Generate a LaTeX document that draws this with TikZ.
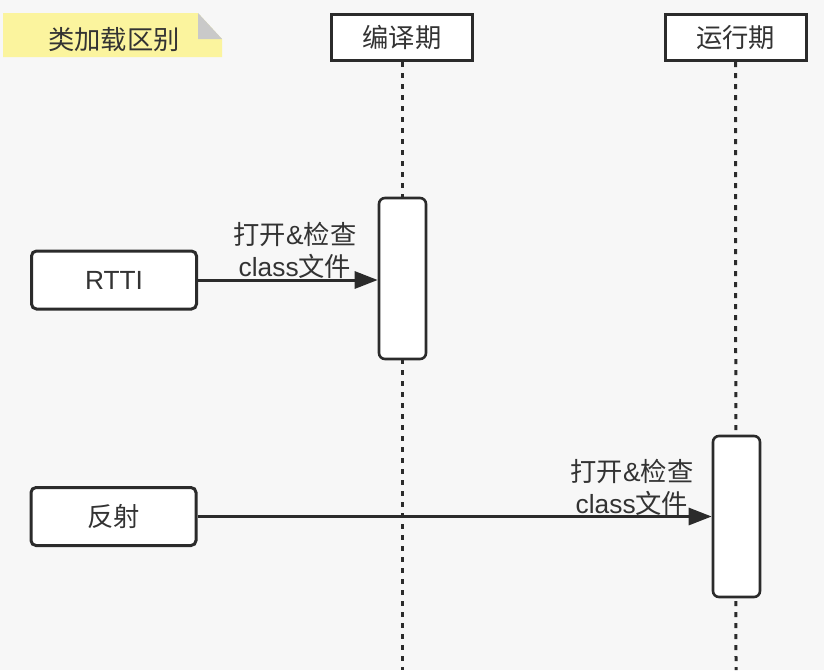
\documentclass[tikz,border=0pt]{standalone}
\usepackage{fontspec}
\setmainfont{Liberation Sans}
\newfontfamily\cjk{Noto Sans CJK SC}
\usetikzlibrary{arrows.meta}
\definecolor{bg}{HTML}{F7F7F7}
\definecolor{ink}{HTML}{2B2B2B}
\definecolor{txt}{HTML}{333333}
\definecolor{noteyellow}{HTML}{FBF49E}
\definecolor{foldgray}{HTML}{C9C9C9}
\tikzset{
  lbl/.style={font=\fontsize{26.3}{32}\selectfont, text=txt, inner sep=0pt},
  headbox/.style={lbl, draw=ink, line width=3pt, fill=white, minimum width=141pt, minimum height=46pt},
  actorbox/.style={lbl, draw=ink, line width=3pt, fill=white, rounded corners=5pt, minimum width=165pt, minimum height=58pt},
  actbox/.style={draw=ink, line width=2.6pt, fill=white, rounded corners=6pt, minimum width=47pt, minimum height=161pt, inner sep=0pt},
  lifeline/.style={draw=ink, line width=3pt, dash pattern=on 5pt off 6pt},
  msg/.style={draw=ink, line width=3pt, -{Triangle[length=23pt,width=17pt]}},
  msglbl/.style={lbl, align=center}
}
\begin{document}
\begin{tikzpicture}[x=1pt,y=-1pt]
\useasboundingbox (0,0) rectangle (824,670);
\fill[bg] (0,0) rectangle (824,670);
% note
\fill[noteyellow] (3,13) -- (198,13) -- (222,39) -- (222,57) -- (3,57) -- cycle;
\fill[foldgray] (198,13) -- (198,39) -- (222,39) -- cycle;
\node[lbl] (note) at (114,40) {\cjk 类加载区别};
% heads
\node[headbox] (compile) at (402,37.5) {\cjk 编译期};
\node[headbox] (runtime) at (735.5,37.5) {\cjk 运行期};
\coordinate (compileend) at (402,670);
\coordinate (runtimeend) at (736,670);
\draw[lifeline] (compile.south) -- (compileend);
\draw[lifeline] (runtime.south) -- (runtimeend);
% activations
\node[actbox] (act1) at (402.5,278.5) {};
\node[actbox] (act2) at (736.5,516.5) {};
% actors
\node[actorbox] (rtti) at (114,280) {RTTI};
\node[actorbox] (reflect) at (113.5,516.5) {\cjk 反射};
% messages
\draw[msg] (rtti.east) -- (act1.west |- rtti.east);
\draw[msg] (reflect.east) -- (act2.west |- reflect.east);
\node[msglbl] (lbl1) at (295,250) {{\cjk 打开}\&{\cjk 检查}\\class{\cjk 文件}};
\node[msglbl] (lbl2) at (632,487) {{\cjk 打开}\&{\cjk 检查}\\class{\cjk 文件}};
\end{tikzpicture}
\end{document}
